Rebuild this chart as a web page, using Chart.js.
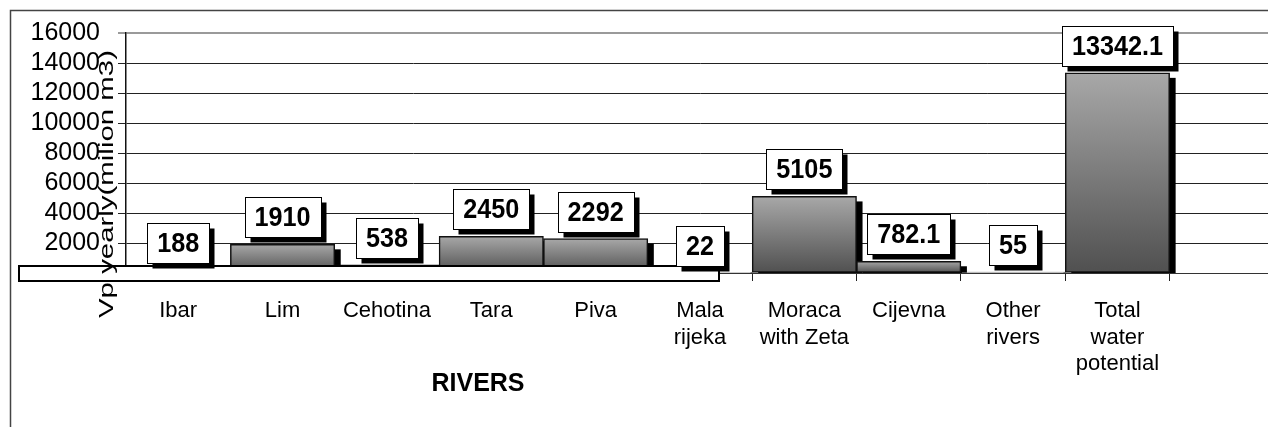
<!DOCTYPE html>
<html>
<head>
<meta charset="utf-8">
<script src="https://cdn.jsdelivr.net/npm/chart.js@4.4.1/dist/chart.umd.min.js"></script>
<style>
  html, body { margin: 0; padding: 0; background: #fff; overflow: hidden; }
  #wrap { width: 1268px; height: 427px; overflow: hidden; position: relative; }
  #wrap canvas { position: absolute; left: 0; top: 0; }
</style>
</head>
<body>
<div id="wrap"><canvas id="riverChart" width="1300" height="427"></canvas></div>
<script>
// ---- chart data ----
const rivers = ["Ibar", "Lim", "Cehotina", "Tara", "Piva", ["Mala", "rijeka"],
  ["Moraca", "with Zeta"], "Cijevna", ["Other", "rivers"], ["Total", "water", "potential"], ""];
const vpYearly = [188, 1910, 538, 2450, 2292, 22, 5105, 782.1, 55, 13342.1, null];
const yTicks = [0, 2000, 4000, 6000, 8000, 10000, 12000, 14000, 16000];
const yTitle = "Vp yearly(milion m3)";
const xTitle = "RIVERS";

const FONT = "'Liberation Sans', Arial, sans-serif";

// gray gradient for each bar, light at top
function barFill(c) {
  const chart = c.chart;
  const area = chart.chartArea;
  if (!area || c.type !== "data" || c.raw == null) return "#888";
  const y = chart.scales.y;
  const top = y.getPixelForValue(c.raw);
  const bot = y.getPixelForValue(0);
  const g = chart.ctx.createLinearGradient(0, top, 0, bot);
  g.addColorStop(0, "#a8a8a8");
  g.addColorStop(1, "#505050");
  return g;
}

// outer frame of the picture (only top and left edges are inside the view)
const framePlugin = {
  id: "frame",
  beforeDraw(chart) {
    const c = chart.ctx;
    c.save();
    c.strokeStyle = "#444";
    c.lineWidth = 1.5;
    c.beginPath();
    c.moveTo(10.5, chart.height);
    c.lineTo(10.5, 10.5);
    c.lineTo(chart.width, 10.5);
    c.stroke();
    c.restore();
  }
};

// black drop shadow behind bars
const barShadow = {
  id: "barShadow",
  beforeDatasetDraw(chart, args) {
    const c = chart.ctx;
    const base = chart.scales.y.getPixelForValue(0);
    c.save();
    c.fillStyle = "#000";
    args.meta.data.forEach((el, i) => {
      if (vpYearly[i] == null) return;
      const w = el.width;
      const top = el.y + 5;
      if (base - top > 0) c.fillRect(el.x - w / 2 + 6, top, w, base - top);
    });
    c.restore();
  }
};

// floor strip + value boxes
const labelBoxes = {
  id: "labelBoxes",
  afterDatasetsDraw(chart) {
    const c = chart.ctx;
    const base = chart.scales.y.getPixelForValue(0);
    const left = chart.chartArea.left;

    // the white floor strip in the lower left
    c.save();
    c.fillStyle = "#fff";
    c.strokeStyle = "#000";
    c.lineWidth = 2;
    c.fillRect(19, base - 7, left + 593 - 19, 15);
    c.strokeRect(19, base - 7, left + 593 - 19, 15);
    c.restore();

    const meta = chart.getDatasetMeta(0);
    const sx = 0.9;
    c.save();
    c.font = "bold 28px " + FONT;
    c.textAlign = "center";
    c.textBaseline = "middle";
    meta.data.forEach((el, i) => {
      const v = vpYearly[i];
      if (v == null) return;
      const txt = String(v);
      const w = Math.round(c.measureText(txt).width * sx) + 20;
      const h = 40;
      const x = Math.round(el.x - w / 2) + 0.5;
      const y = Math.round(el.y - 7 - h) + 0.5;
      c.fillStyle = "#000";
      c.fillRect(x + 5, y + 5, w, h);
      c.fillStyle = "#fff";
      c.fillRect(x, y, w, h);
      c.strokeStyle = "#000";
      c.lineWidth = 1;
      c.strokeRect(x, y, w, h);
      c.fillStyle = "#000";
      c.save();
      c.translate(el.x, y + h / 2 + 1);
      c.scale(sx, 1);
      c.fillText(txt, 0, 0);
      c.restore();
    });
    c.restore();
  }
};

// axis titles
const axisTitles = {
  id: "axisTitles",
  afterDraw(chart) {
    const c = chart.ctx;
    c.save();
    c.fillStyle = "#000";
    c.font = "21px " + FONT;
    c.textAlign = "left";
    c.textBaseline = "alphabetic";
    c.translate(113, 318);
    c.rotate(-Math.PI / 2);
    c.scale(1.4, 1);
    c.fillText(yTitle, 0, 0);
    c.restore();

    c.save();
    c.fillStyle = "#000";
    c.font = "bold 25px " + FONT;
    c.textAlign = "center";
    c.textBaseline = "alphabetic";
    c.fillText(xTitle, chart.chartArea.left + 352, 391);
    c.restore();
  }
};

new Chart(document.getElementById("riverChart"), {
  type: "bar",
  data: {
    labels: rivers,
    datasets: [{
      data: vpYearly,
      backgroundColor: barFill,
      borderColor: "#111",
      borderWidth: 1.5,
      borderSkipped: false,
      barPercentage: 1,
      categoryPercentage: 1
    }]
  },
  options: {
    responsive: false,
    animation: false,
    devicePixelRatio: 1,
    layout: { padding: { left: 0, top: 29, right: 26, bottom: 0 } },
    plugins: { legend: { display: false }, tooltip: { enabled: false } },
    scales: {
      x: {
        offset: true,
        afterFit(scale) { scale.height = 154; },
        grid: { drawOnChartArea: false, offset: true, tickLength: 8, color: "#222", lineWidth: 1 },
        border: { display: true, color: "#333", width: 1 },
        ticks: {
          autoSkip: false, maxRotation: 0, minRotation: 0, padding: 17,
          color: "#000", font: { family: FONT, size: 22, lineHeight: 1.2 }
        }
      },
      y: {
        min: 0, max: 16000,
        afterFit(scale) { scale.width = 126; },
        afterBuildTicks(scale) { scale.ticks = yTicks.map(v => ({ value: v })); },
        grid: {
          tickLength: 8,
          color: c => (c.tick && c.tick.value === 16000 ? "#9a9a9a" : "#222"),
          lineWidth: c => (c.tick && c.tick.value === 16000 ? 2 : 1)
        },
        border: { display: true, color: "#111", width: 1.5 },
        ticks: {
          autoSkip: false, padding: 18, color: "#000",
          font: { family: FONT, size: 25 },
          // the 0 label sits under the floor strip in the original
          callback: v => (v === 0 ? "" : String(v))
        }
      }
    }
  },
  plugins: [framePlugin, barShadow, labelBoxes, axisTitles]
});
</script>
</body>
</html>
